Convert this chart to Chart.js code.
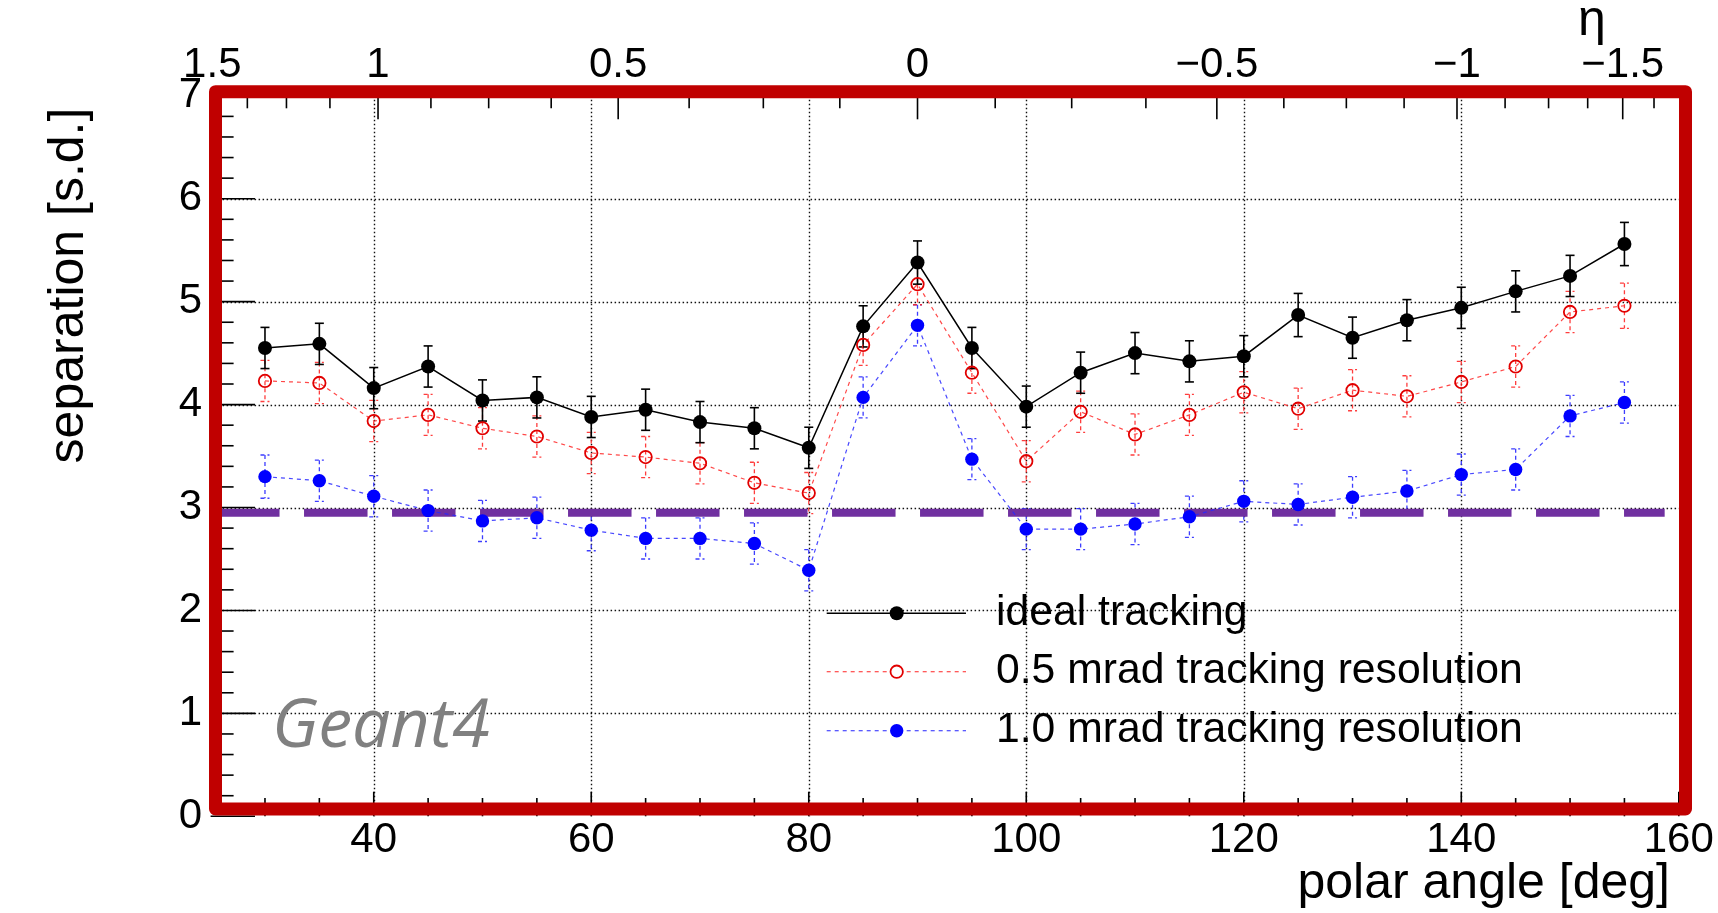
<!DOCTYPE html>
<html><head><meta charset="utf-8">
<script src="https://cdn.jsdelivr.net/npm/chart.js@4.4.1/dist/chart.umd.min.js"></script>
<style>html,body{margin:0;padding:0;background:#fff;overflow:hidden}canvas{display:block}</style>
</head><body>
<canvas id="c" width="1718" height="913" style="width:1718px;height:913px"></canvas>
<script>
// ---- data ----
const THETA = [30,35,40,45,50,55,60,65,70,75,80,85,90,95,100,105,110,115,120,125,130,135,140,145,150,155];
const IDEAL = [4.55,4.59,4.16,4.37,4.04,4.07,3.88,3.95,3.83,3.77,3.58,4.76,5.38,4.55,3.98,4.31,4.50,4.42,4.47,4.87,4.65,4.82,4.94,5.10,5.25,5.56];
const IDEAL_ERR = [0.2,0.2,0.2,0.2,0.2,0.2,0.2,0.2,0.2,0.2,0.2,0.2,0.21,0.2,0.2,0.2,0.2,0.2,0.2,0.21,0.2,0.2,0.2,0.2,0.2,0.21];
const RES05 = [4.23,4.21,3.84,3.90,3.77,3.69,3.53,3.49,3.43,3.24,3.14,4.58,5.17,4.31,3.45,3.93,3.71,3.90,4.12,3.96,4.14,4.08,4.22,4.37,4.90,4.96];
const RES05_ERR = [0.2,0.2,0.2,0.2,0.2,0.2,0.2,0.2,0.2,0.2,0.2,0.2,0.2,0.2,0.2,0.2,0.2,0.2,0.2,0.2,0.2,0.2,0.2,0.2,0.2,0.22];
const RES10 = [3.30,3.26,3.11,2.97,2.87,2.90,2.78,2.70,2.70,2.65,2.39,4.07,4.77,3.47,2.79,2.79,2.84,2.91,3.06,3.03,3.10,3.16,3.32,3.37,3.89,4.02];
const RES10_ERR = [0.21,0.2,0.2,0.2,0.2,0.2,0.2,0.2,0.2,0.2,0.2,0.2,0.2,0.2,0.2,0.2,0.2,0.2,0.2,0.2,0.2,0.2,0.2,0.2,0.2,0.2];
const SERIES_NAMES = ['ideal tracking','0.5 mrad tracking resolution','1.0 mrad tracking resolution'];
const THRESHOLD_X = [25.5, 158.7];
const THRESHOLD_Y = [2.95, 2.95];

const X_TICKS = [40,60,80,100,120,140,160];
const X_MINOR = [30,35,45,50,55,65,70,75,85,90,95,105,110,115,125,130,135,145,150,155];
const Y_TICKS = [0,1,2,3,4,5,6,7];
const ETA_MAJOR = [1.5,1,0.5,0,-0.5,-1,-1.5];
const ETA_LABELS = ['1.5','1','0.5','0','\u22120.5','\u22121','\u22121.5'];
const ETA_MINOR = [1.375,1.25,1.125,0.875,0.75,0.625,0.375,0.25,0.125,-0.125,-0.25,-0.375,-0.625,-0.75,-0.875,-1.125,-1.25,-1.375,-1.625];

// ---- styles ----
const FONT = '"Liberation Sans", Arial, Helvetica, sans-serif';
const RED_FRAME = 'rgb(192,0,0)';
const PURPLE = 'rgb(112,48,160)';
function etaToTheta(e){ return 2*Math.atan(Math.exp(-e))*180/Math.PI; }

const STY = [
  {line:'#000', lw:1.5, dash:[], mfill:'#000', mstroke:'#000', mlw:0, r:7, err:'#000', errDash:[]},
  {line:'rgba(255,40,40,0.85)', lw:1.2, dash:[4,4], mfill:'rgba(0,0,0,0)', mstroke:'rgb(225,0,0)', mlw:1.8, r:6.2, err:'rgba(255,40,40,0.9)', errDash:[4,3]},
  {line:'rgba(40,40,255,0.85)', lw:1.2, dash:[4,4], mfill:'#0000ff', mstroke:'#0000ff', mlw:0, r:6.7, err:'rgba(40,40,255,0.9)', errDash:[4,3]}
];
const SERIES = [IDEAL, RES05, RES10];
const ERRS = [IDEAL_ERR, RES05_ERR, RES10_ERR];

function seg(ctx,x1,y1,x2,y2){ctx.beginPath();ctx.moveTo(x1,y1);ctx.lineTo(x2,y2);ctx.stroke();}

const rootPlugin = {
  id:'rootStyle',
  beforeDatasetsDraw(chart){
    const {ctx, chartArea:a, scales:{x,y}} = chart;
    ctx.save();
    ctx.strokeStyle = '#111'; ctx.lineWidth = 1.4; ctx.setLineDash([1.5,2.5]);
    X_TICKS.forEach(v=>{ if(v>=160) return; const px = Math.round(x.getPixelForValue(v))+0.5; seg(ctx,px,a.top,px,a.bottom); });
    Y_TICKS.forEach(v=>{ if(v<=0||v>=7) return; const py = Math.round(y.getPixelForValue(v))+0.5; seg(ctx,a.left,py,a.right,py); });
    ctx.restore();
    // error bars
    ctx.save();
    for(let s=SERIES.length-1;s>=0;s--){
      const st = STY[s];
      ctx.strokeStyle = st.err; ctx.lineWidth = s===0?1.6:1.3; ctx.setLineDash(st.errDash);
      THETA.forEach((t,i)=>{
        const px = x.getPixelForValue(t);
        const yt = y.getPixelForValue(SERIES[s][i]+ERRS[s][i]);
        const yb = y.getPixelForValue(SERIES[s][i]-ERRS[s][i]);
        seg(ctx,px,yt,px,yb);
        seg(ctx,px-4.5,yt,px+4.5,yt);
        seg(ctx,px-4.5,yb,px+4.5,yb);
      });
    }
    ctx.restore();
  },
  afterDatasetsDraw(chart){
    const {ctx, chartArea:a, scales:{x,y}} = chart;
    ctx.save();
    ctx.strokeStyle = '#000'; ctx.lineWidth = 1.6; ctx.setLineDash([]);
    // bottom ticks
    X_TICKS.forEach(v=>{const px=x.getPixelForValue(v); seg(ctx,px,a.bottom,px,a.bottom-24.6);});
    X_MINOR.forEach(v=>{const px=x.getPixelForValue(v); seg(ctx,px,a.bottom,px,a.bottom-18.3);});
    // left ticks
    for(let k=0;k<=35;k++){
      const v = k/5; const py = y.getPixelForValue(v);
      const major = (k%5===0);
      seg(ctx,a.left,py,a.left+(major?44.4:23),py);
    }
    // top eta ticks
    ETA_MAJOR.forEach(e=>{const px=x.getPixelForValue(etaToTheta(e)); seg(ctx,px,a.top,px,a.top+23.5);});
    ETA_MINOR.forEach(e=>{const px=x.getPixelForValue(etaToTheta(e)); seg(ctx,px,a.top,px,a.top+12.5);});
    // frame
    ctx.strokeStyle = RED_FRAME; ctx.lineWidth = 13; ctx.lineJoin = 'round';
    const L = a.left+4.9, R = a.right+6.7, T = a.top-4.1, B = a.bottom-7.4;
    ctx.strokeRect(L,T,R-L,B-T);
    ctx.restore();

    // texts
    ctx.save();
    ctx.fillStyle = '#000';
    ctx.font = '50px '+FONT;
    ctx.textBaseline = 'alphabetic';
    ctx.save(); ctx.translate(83.3,285.5); ctx.rotate(-Math.PI/2); ctx.textAlign='center'; ctx.fillText('separation [s.d.]',0,0); ctx.restore();
    ctx.textAlign = 'right'; ctx.fillText('polar angle [deg]',1670,898);
    ctx.textAlign = 'center'; ctx.fillText('\u03b7',1592,35);
    ctx.fillStyle = '#808080'; ctx.textAlign='left';
    ctx.font = 'italic 68px "Open Sans", sans-serif';
    ctx.fillText('Geant4',272,747);
    // legend
    const rows = [613.3,671.7,730.7];
    for(let s=0;s<3;s++){
      const st = STY[s], ry = rows[s];
      ctx.strokeStyle = st.line; ctx.lineWidth = st.lw; ctx.setLineDash(st.dash);
      seg(ctx,826.7,ry,966,ry);
      ctx.setLineDash([]);
      ctx.beginPath(); ctx.arc(896.7,ry,st.r,0,Math.PI*2);
      if(st.mlw>0){ ctx.fillStyle='#fff'; ctx.fill(); ctx.strokeStyle=st.mstroke; ctx.lineWidth=st.mlw; ctx.stroke(); }
      else { ctx.fillStyle=st.mfill; ctx.fill(); }
      ctx.fillStyle = '#000'; ctx.font = '42.7px '+FONT; ctx.textAlign='left';
      ctx.fillText(SERIES_NAMES[s],996,ry+11.5);
    }
    ctx.restore();
  }
};

const datasets = SERIES.map((arr,s)=>({
  label: SERIES_NAMES[s],
  data: THETA.map((t,i)=>({x:t,y:arr[i]})),
  borderColor: STY[s].line, borderWidth: STY[s].lw, borderDash: STY[s].dash,
  pointRadius: STY[s].r, pointHoverRadius: STY[s].r,
  pointBackgroundColor: STY[s].mfill, pointBorderColor: STY[s].mstroke, pointBorderWidth: STY[s].mlw,
  fill:false, tension:0, order: s
}));
datasets.push({
  label:'threshold',
  data: THRESHOLD_X.map((t,i)=>({x:t,y:THRESHOLD_Y[i]})),
  borderColor: PURPLE, borderWidth: 8, borderDash:[63.5,24.5], borderCapStyle:'butt',
  pointRadius:0, fill:false, order: 10
});

const tickFont = {family: FONT, size: 42, lineHeight: 1};
new Chart(document.getElementById('c'), {
  type:'line',
  data:{datasets},
  plugins:[rootPlugin],
  options:{
    responsive:false, devicePixelRatio:1, animation:false,
    layout:{padding:{left:0,right:39.2,top:0,bottom:0}},
    plugins:{legend:{display:false}, tooltip:{enabled:false}},
    scales:{
      x:{type:'linear', position:'bottom', min:25, max:160,
        grid:{display:false, drawTicks:false}, border:{display:false},
        ticks:{color:'#000', font:tickFont, padding:3.2, maxRotation:0, autoSkip:false},
        afterBuildTicks: s=>{ s.ticks = X_TICKS.map(v=>({value:v})); },
        afterFit: s=>{ s.height = 96.7; s.paddingLeft = 0; s.paddingRight = 0; }
      },
      x2:{type:'linear', position:'top', min:25, max:160,
        grid:{display:false, drawTicks:false}, border:{display:false},
        ticks:{color:'#000', font:tickFont, padding:9, maxRotation:0, autoSkip:false,
          callback:(v,i)=>ETA_LABELS[i]},
        afterBuildTicks: s=>{ s.ticks = ETA_MAJOR.map(e=>({value:etaToTheta(e)})); },
        afterFit: s=>{ s.height = 95.8; s.paddingLeft = 0; s.paddingRight = 0; }
      },
      y:{type:'linear', min:0, max:7,
        grid:{display:false, drawTicks:false}, border:{display:false},
        ticks:{color:'#000', font:tickFont, padding:8.6, stepSize:1},
        afterFit: s=>{ s.width = 210.6; s.paddingTop = 0; s.paddingBottom = 0; }
      }
    }
  }
});
</script>
</body></html>
